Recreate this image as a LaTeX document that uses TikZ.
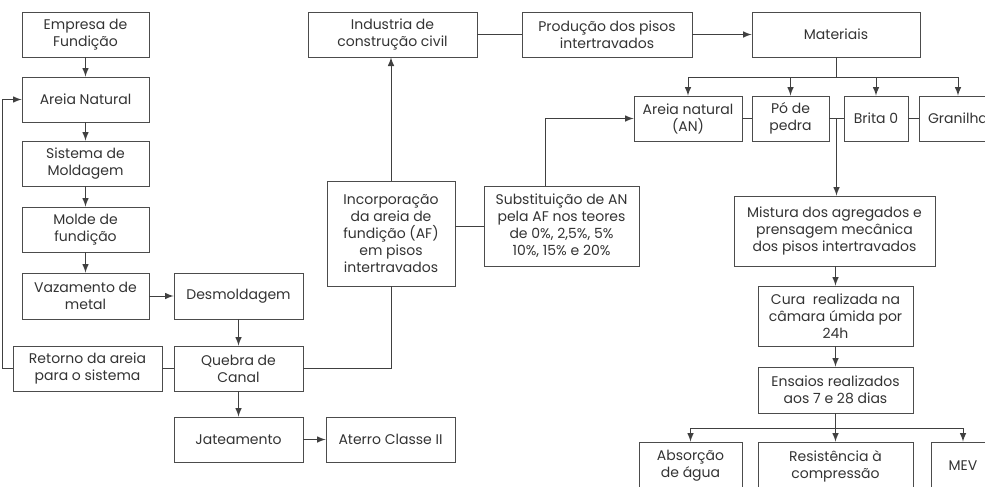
\documentclass[tikz,border=0pt]{standalone}
\usepackage{fontspec}
\setmainfont{Poppins}
\usetikzlibrary{arrows,calc}
\tikzset{>=latex}
\tikzset{
    box/.style={draw=black!70, rectangle, align=center, inner sep=0pt, text=black!80},
    sz/.style 2 args={minimum width=#1*0.5pt, minimum height=#2*0.5pt},
    ln/.style={draw=black!75, line width=0.5pt}
}

\begin{document}
\begin{tikzpicture}[x=0.5pt,y=-0.5pt,font=\fontsize{7}{8.5}\selectfont]
    \useasboundingbox (0,0) rectangle (985,487);
    \clip (0,0) rectangle (985,487);

    % left column
    \node[box,sz={127}{45}] (emp) at (85.5,34.5) {Empresa de\\Fundição};
    \node[box,sz={127}{45}] (areia) at (85.5,99.5) {Areia Natural};
    \node[box,sz={127}{45}] (sist) at (85.5,163.5) {Sistema de\\Moldagem};
    \node[box,sz={127}{45}] (molde) at (85.5,229.5) {Molde de\\fundição};
    \node[box,sz={127}{46}] (vaz) at (85.5,296) {Vazamento de\\metal};
    \node[box,sz={129}{46}] (desm) at (238.5,296) {Desmoldagem};
    \node[box,sz={149}{45}] (ret) at (87.5,368.5) {Retorno da areia\\para o sistema};
    \node[box,sz={129}{45}] (queb) at (238.5,368.5) {Quebra de\\Canal};
    \node[box,sz={129}{45}] (jat) at (238.5,439.5) {Jateamento};
    \node[box,sz={129}{45}] (ater) at (390.5,439.5) {Aterro Classe II};
    \coordinate (lp) at (2,0);

    \draw[ln,->] (emp) -- (areia);
    \draw[ln,->] (areia) -- (sist);
    \draw[ln,->] (sist) -- (molde);
    \draw[ln,->] (molde) -- (vaz);
    \draw[ln,->] (vaz) -- (desm);
    \draw[ln,->] (desm) -- (queb);
    \draw[ln,->] (queb) -- (jat);
    \draw[ln,->] (jat) -- (ater);
    \draw[ln] (ret) -- (queb);
    \draw[ln,->] (ret.west) -- (ret.west -| lp) |- (areia.west);

    % middle
    \node[box,sz={169}{45}] (ind) at (392.5,34.5) {Industria de\\construção civil};
    \node[box,sz={170}{45}] (prod) at (607,34.5) {Produção dos pisos\\intertravados};
    \node[box,sz={128}{105}] (inc) at (391,233.5) {Incorporação\\da areia de\\fundição (AF)\\em pisos\\intertravados};
    \node[box,sz={155}{80}] (sub) at (561.5,226) {Substituição de AN\\pela AF nos teores\\de 0\%, 2,5\%, 5\%\\10\%, 15\% e 20\%};

    \draw[ln] (queb.east) -| (inc.south);
    \draw[ln,->] (inc.north) -- (inc.north |- ind.south);
    \draw[ln] (sub.west -| inc.east) -- (sub.west);
    \draw[ln] (ind) -- (prod);

    % right side
    \node[box,sz={168}{45}] (mat) at (836,34.5) {Materiais};
    \node[box,sz={108}{45}] (an) at (688,118.5) {Areia natural\\(AN)};
    \node[box,sz={77}{45}] (po) at (790.5,118.5) {Pó de\\pedra};
    \node[box,sz={64}{45}] (brita) at (876,118.5) {Brita 0};
    \node[box,sz={78}{45}] (gran) at (958,118.5) {Granilha};
    \node[box,sz={201}{70}] (mist) at (834.5,231) {Mistura dos agregados e\\prensagem mecânica\\dos pisos intertravados};
    \node[box,sz={155}{60}] (cura) at (835.5,316) {Cura\ \ realizada na\\câmara úmida por\\24h};
    \node[box,sz={155}{46}] (ens) at (835.5,390) {Ensaios realizados\\aos 7 e 28 dias};
    \node[box,sz={103}{48}] (abs) at (690.5,466) {Absorção\\de água};
    \node[box,sz={155}{48}] (res) at (835.5,466) {Resistência à\\compressão};
    \node[box,sz={64}{48}] (mev) at (963,466) {MEV};
    \coordinate (mj) at (836,77);
    \coordinate (ej) at (835.5,428);
    \coordinate (pb) at ($(po.east)!0.5!(brita.west)$);

    \draw[ln,->] (prod) -- (mat);
    \draw[ln,->] ([xshift=-8.25pt]sub.north) |- (an.west);
    \draw[ln] (mat.south) -- (mj);
    \draw[ln,->] (mj) -| (an.north);
    \draw[ln,->] (mj) -| (po.north);
    \draw[ln,->] (mj) -| (brita.north);
    \draw[ln,->] (mj) -| (gran.north);
    \draw[ln] (an) -- (po);
    \draw[ln] (po) -- (brita);
    \draw[ln] (brita) -- (gran);
    \draw[ln,->] (pb) -- (pb |- mist.north);
    \draw[ln,->] (mist.south -| cura.north) -- (cura.north);
    \draw[ln,->] (cura) -- (ens);
    \draw[ln] (ens.south) -- (ej);
    \draw[ln,->] (ej) -| (abs.north);
    \draw[ln,->] (ej) -- (res.north);
    \draw[ln,->] (ej) -| (mev.north);
\end{tikzpicture}
\end{document}
